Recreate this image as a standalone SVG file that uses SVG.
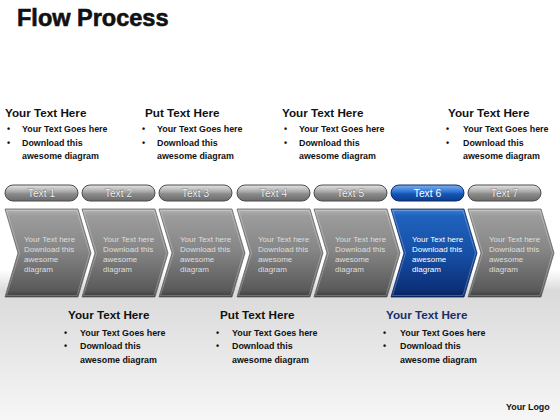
<svg xmlns="http://www.w3.org/2000/svg" width="560" height="420" viewBox="0 0 560 420">
<defs>
<linearGradient id="bgBot" x1="0" y1="0" x2="0" y2="1">
<stop offset="0" stop-color="#ffffff"/><stop offset="0.14" stop-color="#dadada"/><stop offset="0.45" stop-color="#e4e4e4"/><stop offset="1" stop-color="#f6f6f6"/>
</linearGradient>
<linearGradient id="chevGrey" x1="0" y1="0" x2="0" y2="1">
<stop offset="0" stop-color="#b4b4b4"/><stop offset="0.08" stop-color="#9c9c9c"/><stop offset="0.45" stop-color="#878787"/><stop offset="0.92" stop-color="#5a5a5a"/><stop offset="1" stop-color="#3c3c3c"/>
</linearGradient>
<linearGradient id="chevBlue" x1="0" y1="0" x2="0" y2="1">
<stop offset="0" stop-color="#3d7fd6"/><stop offset="0.08" stop-color="#1f62bd"/><stop offset="0.5" stop-color="#1650a6"/><stop offset="0.92" stop-color="#0c2f78"/><stop offset="1" stop-color="#08215a"/>
</linearGradient>
<linearGradient id="pillGrey" x1="0" y1="0" x2="0" y2="1">
<stop offset="0" stop-color="#e6e6e6"/><stop offset="0.45" stop-color="#a4a4a4"/><stop offset="0.55" stop-color="#8c8c8c"/><stop offset="1" stop-color="#6a6a6a"/>
</linearGradient>
<linearGradient id="pillBlue" x1="0" y1="0" x2="0" y2="1">
<stop offset="0" stop-color="#7fb0ee"/><stop offset="0.45" stop-color="#2a6fcf"/><stop offset="0.55" stop-color="#1557b4"/><stop offset="1" stop-color="#0c3b8a"/>
</linearGradient>
<path id="chev" d="M0,0 L73,0 L86,44 L73,88 L0,88 L13,44 Z"/>
<path id="chevHi" d="M1.5,1.5 L72,1.5 L84.5,44 L72,86.5 L1.5,86.5 L14.5,44 Z"/>
</defs>
<style>
.title{font-family:"Liberation Sans",Arial,sans-serif;font-weight:bold;font-size:23.5px;fill:#111;stroke:#111;stroke-width:0.6}
.hd{font-family:"Liberation Sans",Arial,sans-serif;font-weight:bold;font-size:11.7px;fill:#111}
.hdb{fill:#1b2f6b}
.bl{font-family:"Liberation Sans",Arial,sans-serif;font-weight:bold;font-size:8.9px;fill:#111}
.ct{font-family:"Liberation Sans",Arial,sans-serif;font-size:8px;fill:#dedede}
.ctw{fill:#ffffff}
.pt{font-family:"Liberation Sans",Arial,sans-serif;font-size:10.3px;fill:#f4f4f4;text-anchor:middle;stroke:#4a4a4a;stroke-width:0.5;paint-order:stroke}
.ptb{fill:#ffffff;stroke:none}
.cg{fill:url(#chevGrey);stroke:#666;stroke-width:0.8}
.cb{fill:url(#chevBlue);stroke:#0a2a6a;stroke-width:0.8}
.hi{fill:none;stroke:#ffffff;stroke-opacity:0.25;stroke-width:1}
.pg{fill:url(#pillGrey);stroke:#4c4c4c;stroke-width:1}
.pb{fill:url(#pillBlue);stroke:#0a2d6e;stroke-width:1}
</style>
<rect x="0" y="0" width="560" height="420" fill="#ffffff"/>
<rect x="0" y="270" width="560" height="150" fill="url(#bgBot)"/>
<text class="title" x="17" y="26">Flow Process</text>

<g id="info-top-1">
<text class="hd" x="5" y="117">Your Text Here</text>
<text class="bl" x="7" y="132">•</text><text class="bl" x="22" y="132">Your Text Goes here</text>
<text class="bl" x="7" y="145.5">•</text><text class="bl" x="22" y="145.5">Download this</text>
<text class="bl" x="22" y="159">awesome diagram</text>
</g>
<g id="info-top-2">
<text class="hd" x="145" y="117">Put Text Here</text>
<text class="bl" x="142" y="132">•</text><text class="bl" x="157" y="132">Your Text Goes here</text>
<text class="bl" x="142" y="145.5">•</text><text class="bl" x="157" y="145.5">Download this</text>
<text class="bl" x="157" y="159">awesome diagram</text>
</g>
<g id="info-top-3">
<text class="hd" x="282" y="117">Your Text Here</text>
<text class="bl" x="284" y="132">•</text><text class="bl" x="299" y="132">Your Text Goes here</text>
<text class="bl" x="284" y="145.5">•</text><text class="bl" x="299" y="145.5">Download this</text>
<text class="bl" x="299" y="159">awesome diagram</text>
</g>
<g id="info-top-4">
<text class="hd" x="448" y="117">Your Text Here</text>
<text class="bl" x="446" y="132">•</text><text class="bl" x="463" y="132">Your Text Goes here</text>
<text class="bl" x="446" y="145.5">•</text><text class="bl" x="463" y="145.5">Download this</text>
<text class="bl" x="463" y="159">awesome diagram</text>
</g>

<g id="connectors"></g>

<g id="step-1" transform="translate(5,0)">
<rect class="pg" x="0" y="185" width="73" height="16" rx="8"/>
<text class="pt" x="36.5" y="196.8">Text 1</text>
<g transform="translate(0,209)"><use href="#chev" class="cg"/><use href="#chevHi" class="hi"/></g>
<text class="ct" x="19" y="241.5">Your Text here</text>
<text class="ct" x="19" y="251.8">Download this</text>
<text class="ct" x="19" y="262.1">awesome</text>
<text class="ct" x="19" y="272.4">diagram</text>
</g>
<g id="step-2" transform="translate(82,0)">
<rect class="pg" x="0" y="185" width="73" height="16" rx="8"/>
<text class="pt" x="36.5" y="196.8">Text 2</text>
<g transform="translate(0,209)"><use href="#chev" class="cg"/><use href="#chevHi" class="hi"/></g>
<text class="ct" x="21" y="241.5">Your Text here</text>
<text class="ct" x="21" y="251.8">Download this</text>
<text class="ct" x="21" y="262.1">awesome</text>
<text class="ct" x="21" y="272.4">diagram</text>
</g>
<g id="step-3" transform="translate(159,0)">
<rect class="pg" x="0" y="185" width="73" height="16" rx="8"/>
<text class="pt" x="36.5" y="196.8">Text 3</text>
<g transform="translate(0,209)"><use href="#chev" class="cg"/><use href="#chevHi" class="hi"/></g>
<text class="ct" x="21" y="241.5">Your Text here</text>
<text class="ct" x="21" y="251.8">Download this</text>
<text class="ct" x="21" y="262.1">awesome</text>
<text class="ct" x="21" y="272.4">diagram</text>
</g>
<g id="step-4" transform="translate(237,0)">
<rect class="pg" x="0" y="185" width="73" height="16" rx="8"/>
<text class="pt" x="36.5" y="196.8">Text 4</text>
<g transform="translate(0,209)"><use href="#chev" class="cg"/><use href="#chevHi" class="hi"/></g>
<text class="ct" x="21" y="241.5">Your Text here</text>
<text class="ct" x="21" y="251.8">Download this</text>
<text class="ct" x="21" y="262.1">awesome</text>
<text class="ct" x="21" y="272.4">diagram</text>
</g>
<g id="step-5" transform="translate(314,0)">
<rect class="pg" x="0" y="185" width="73" height="16" rx="8"/>
<text class="pt" x="36.5" y="196.8">Text 5</text>
<g transform="translate(0,209)"><use href="#chev" class="cg"/><use href="#chevHi" class="hi"/></g>
<text class="ct" x="21" y="241.5">Your Text here</text>
<text class="ct" x="21" y="251.8">Download this</text>
<text class="ct" x="21" y="262.1">awesome</text>
<text class="ct" x="21" y="272.4">diagram</text>
</g>
<g id="step-6" transform="translate(391,0)">
<rect class="pb" x="0" y="185" width="73" height="16" rx="8"/>
<text class="pt ptb" x="36.5" y="196.8">Text 6</text>
<g transform="translate(0,209)"><use href="#chev" class="cb"/><use href="#chevHi" class="hi"/></g>
<text class="ct ctw" x="21" y="241.5">Your Text here</text>
<text class="ct ctw" x="21" y="251.8">Download this</text>
<text class="ct ctw" x="21" y="262.1">awesome</text>
<text class="ct ctw" x="21" y="272.4">diagram</text>
</g>
<g id="step-7" transform="translate(468,0)">
<rect class="pg" x="0" y="185" width="73" height="16" rx="8"/>
<text class="pt" x="36.5" y="196.8">Text 7</text>
<g transform="translate(0,209)"><use href="#chev" class="cg"/><use href="#chevHi" class="hi"/></g>
<text class="ct" x="21" y="241.5">Your Text here</text>
<text class="ct" x="21" y="251.8">Download this</text>
<text class="ct" x="21" y="262.1">awesome</text>
<text class="ct" x="21" y="272.4">diagram</text>
</g>

<g id="info-bottom-1">
<text class="hd" x="68" y="319">Your Text Here</text>
<text class="bl" x="64" y="335.5">•</text><text class="bl" x="80" y="335.5">Your Text Goes here</text>
<text class="bl" x="64" y="349">•</text><text class="bl" x="80" y="349">Download this</text>
<text class="bl" x="80" y="362.5">awesome diagram</text>
</g>
<g id="info-bottom-2">
<text class="hd" x="220" y="319">Put Text Here</text>
<text class="bl" x="216" y="335.5">•</text><text class="bl" x="232" y="335.5">Your Text Goes here</text>
<text class="bl" x="216" y="349">•</text><text class="bl" x="232" y="349">Download this</text>
<text class="bl" x="232" y="362.5">awesome diagram</text>
</g>
<g id="info-bottom-3">
<text class="hd hdb" x="386" y="319">Your Text Here</text>
<text class="bl" x="383" y="335.5">•</text><text class="bl" x="400" y="335.5">Your Text Goes here</text>
<text class="bl" x="383" y="349">•</text><text class="bl" x="400" y="349">Download this</text>
<text class="bl" x="400" y="362.5">awesome diagram</text>
</g>
<text class="bl" x="506" y="409.5">Your Logo</text>
</svg>
